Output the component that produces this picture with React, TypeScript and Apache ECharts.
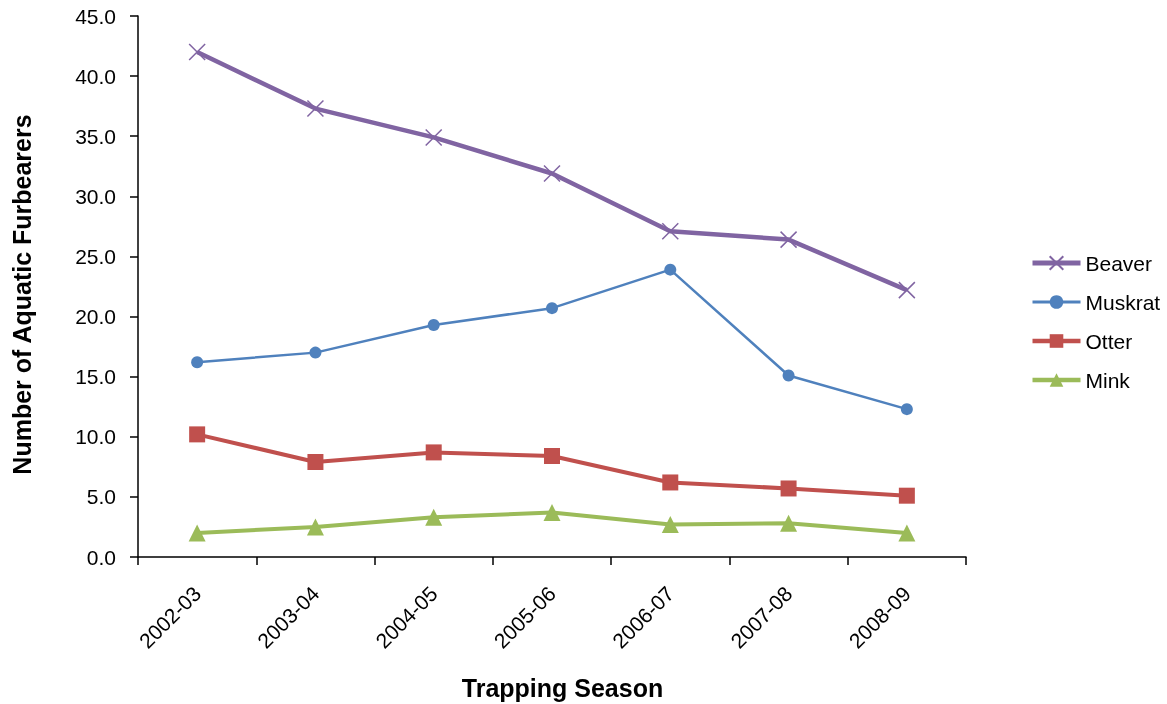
import React, { useEffect, useRef } from "react";
import * as echarts from "echarts";

const categories = ["2002-03", "2003-04", "2004-05", "2005-06", "2006-07", "2007-08", "2008-09"];
const beaver = [42.0, 37.3, 34.9, 31.9, 27.1, 26.4, 22.2];
const muskrat = [16.2, 17.0, 19.3, 20.7, 23.9, 15.1, 12.3];
const otter = [10.2, 7.9, 8.7, 8.4, 6.2, 5.7, 5.1];
const mink = [2.0, 2.5, 3.3, 3.7, 2.7, 2.8, 2.0];
const seriesNames = ["Beaver", "Muskrat", "Otter", "Mink"];

const FONT = "Liberation Sans, Arial, sans-serif";
const COLORS = ["#8064A2", "#4F81BD", "#C0504D", "#9BBB59"];
const WIDTHS = [4.5, 2.5, 4, 4];

export default function App() {
  const ref = useRef<HTMLDivElement>(null);
  useEffect(() => {
    if (!ref.current) return;
    const chart = echarts.init(ref.current, undefined, { renderer: "svg" });
    const mk = (i: number, data: number[], symbol: string, size: number, extra: any = {}) => ({
      name: seriesNames[i],
      type: "line",
      data,
      symbol,
      symbolSize: size,
      showAllSymbol: true,
      color: COLORS[i],
      lineStyle: { color: COLORS[i], width: WIDTHS[i] },
      itemStyle: { color: COLORS[i], ...extra },
      emphasis: { disabled: true },
    });
    chart.setOption({
      animation: false,
      textStyle: { fontFamily: FONT },
      grid: { left: 138, right: 201, top: 16, bottom: 147, containLabel: false, outerBoundsMode: "none" },
      legend: {
        orient: "vertical",
        left: 1030,
        top: 252,
        padding: 0,
        itemWidth: 48,
        itemHeight: 17,
        itemGap: 17,
        textStyle: { fontSize: 21, lineHeight: 22, color: "#000", fontFamily: FONT },
        data: seriesNames.map((n, i) => ({ name: n, lineStyle: { width: WIDTHS[i] + 0.5 } })),
      },
      xAxis: {
        type: "category",
        data: categories,
        boundaryGap: true,
        name: "Trapping Season",
        nameLocation: "middle",
        nameGap: 118,
        nameTextStyle: { fontSize: 25, fontWeight: "bold", color: "#000", fontFamily: FONT, padding: [0, 0, 0, 21] },
        axisLine: { lineStyle: { color: "#000", width: 1.5 } },
        axisTick: { show: true, length: 8, alignWithLabel: false, lineStyle: { color: "#000", width: 1.5 } },
        axisLabel: { rotate: 45, fontSize: 21, color: "#000", margin: 33, fontFamily: FONT, interval: 0 },
        splitLine: { show: false },
      },
      yAxis: {
        type: "value",
        min: 0,
        max: 45,
        interval: 5,
        name: "Number of Aquatic Furbearers",
        nameLocation: "middle",
        nameGap: 104,
        nameTextStyle: { fontSize: 25, fontWeight: "bold", color: "#000", fontFamily: FONT, padding: [0, 16, 0, 0] },
        axisLine: { show: true, lineStyle: { color: "#000", width: 1.5 } },
        axisTick: { show: true, length: 8, lineStyle: { color: "#000", width: 1.5 } },
        axisLabel: { fontSize: 21, color: "#000", margin: 22, fontFamily: FONT, formatter: (v: number) => v.toFixed(1) },
        splitLine: { show: false },
      },
      series: [
        mk(0, beaver, "path://M0,0L10,10M10,0L0,10", 16, { borderColor: COLORS[0], borderWidth: 1.5 }),
        mk(1, muskrat, "circle", 12),
        mk(2, otter, "rect", 16),
        mk(3, mink, "triangle", 17),
      ],
    });
    return () => chart.dispose();
  }, []);
  return <div ref={ref} style={{ position: "fixed", left: 0, top: 0, width: 1167, height: 704 }} />;
}
